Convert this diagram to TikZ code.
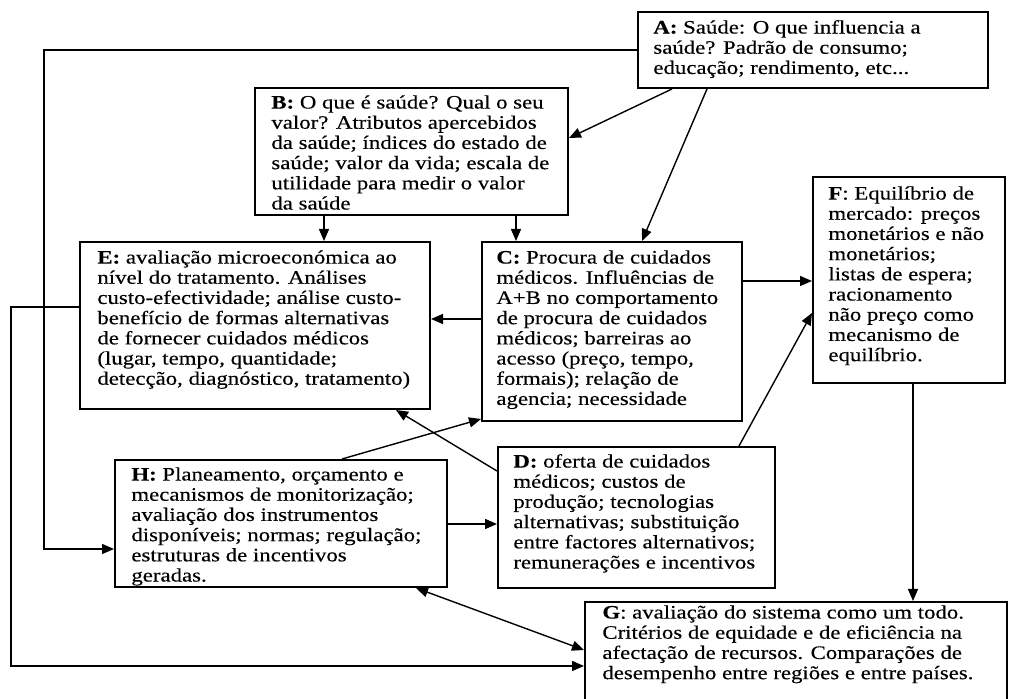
\documentclass[tikz,border=0pt]{standalone}
\usepackage{fontspec}
\setmainfont{Liberation Serif}[FakeStretch=1.2,FakeBold=0.35]
\usetikzlibrary{arrows.meta,calc,fit}
\newcommand\boxfont{\fontsize{9.5pt}{10.1pt}\selectfont}
\begin{document}
\begin{tikzpicture}[x=0.5pt,y=-0.5pt,
  box/.style={draw=black, line width=1pt, inner sep=0pt},
  txt/.style={anchor=north west, inner sep=0pt, align=left, font=\boxfont},
  arr/.style={line width=0.7pt, -{Triangle[length=6pt,width=5pt]}},
  darr/.style={line width=0.7pt, {Triangle[length=6pt,width=5pt]}-{Triangle[length=6pt,width=5pt]}}]
\useasboundingbox (0,0) rectangle (1009,699);
% box corners
\coordinate (Anw) at (638,12);  \coordinate (Ase) at (988,88);
\coordinate (Bnw) at (255,88);  \coordinate (Bse) at (568,215);
\coordinate (Cnw) at (482,242); \coordinate (Cse) at (742,421);
\coordinate (Enw) at (80,242);  \coordinate (Ese) at (430,409);
\coordinate (Fnw) at (813,177); \coordinate (Fse) at (1005,383);
\coordinate (Dnw) at (498,447); \coordinate (Dse) at (775,588);
\coordinate (Hnw) at (115,460); \coordinate (Hse) at (447,587);
\coordinate (Gnw) at (585,602); \coordinate (Gse) at (1007,701);
\node[box, fit=(Anw)(Ase)] (A) {};
\node[box, fit=(Bnw)(Bse)] (B) {};
\node[box, fit=(Cnw)(Cse)] (C) {};
\node[box, fit=(Enw)(Ese)] (E) {};
\node[box, fit=(Fnw)(Fse)] (F) {};
\node[box, fit=(Dnw)(Dse)] (D) {};
\node[box, fit=(Hnw)(Hse)] (H) {};
\node[box, fit=(Gnw)(Gse)] (G) {};
% texts
\node[txt] (At) at (653,19) {\strut\textbf{A:} Saúde: O que influencia a\\saúde? Padrão de consumo;\\educação; rendimento, etc...};
\node[txt] (Bt) at (271,94) {\strut\textbf{B:} O que é saúde? Qual o seu\\valor? Atributos apercebidos\\da saúde; índices do estado de\\saúde; valor da vida; escala de\\utilidade para medir o valor\\da saúde};
\node[txt] (Ct) at (496,249) {\strut\textbf{C:} Procura de cuidados\\médicos. Influências de\\A+B no comportamento\\de procura de cuidados\\médicos; barreiras ao\\acesso (preço, tempo,\\formais); relação de\\agencia; necessidade};
\node[txt] (Et) at (97,249) {\strut\textbf{E:} avaliação microeconómica ao\\nível do tratamento. Análises\\custo-efectividade; análise custo-\\benefício de formas alternativas\\de fornecer cuidados médicos\\(lugar, tempo, quantidade;\\detecção, diagnóstico, tratamento)};
\node[txt] (Ft) at (828,185) {\strut\textbf{F}: Equilíbrio de\\mercado: preços\\monetários e não\\monetários;\\listas de espera;\\racionamento\\não preço como\\mecanismo de\\equilíbrio.};
\node[txt] (Dt) at (513,453) {\strut\textbf{D:} oferta de cuidados\\médicos; custos de\\produção; tecnologias\\alternativas; substituição\\entre factores alternativos;\\remunerações e incentivos};
\node[txt] (Ht) at (131,466) {\strut\textbf{H:} Planeamento, orçamento e\\mecanismos de monitorização;\\avaliação dos instrumentos\\disponíveis; normas; regulação;\\estruturas de incentivos\\geradas.};
\node[txt] (Gt) at (602,604) {\strut\textbf{G}: avaliação do sistema como um todo.\\Critérios de equidade e de eficiência na\\afectação de recursos. Comparações de\\desempenho entre regiões e entre países.};
% connectors
\draw[arr] ($(A.south west)+(35,0)$) -- ($(B.east)+(0,-13.5)$);
\draw[arr] ($(A.south west)+(70,0)$) -- ($(C.north west)+(161,0)$);
\draw[arr] (A.west) -- ++(-593,0) |- ($(H.west)+(0,25.5)$);
\draw[arr] ($(B.south west)+(70,0)$) coordinate (b1) -- (b1 |- E.north);
\draw[arr] ($(B.south west)+(262,0)$) coordinate (b2) -- (b2 |- C.north);
\draw[arr] ($(C.west)+(0,-12.5)$) coordinate (c1) -- (c1 -| E.east);
\draw[arr] ($(C.east)+(0,-50.5)$) coordinate (c2) -- (c2 -| F.west);
\draw[arr] ($(D.north west)+(242,0)$) -- ($(F.west)+(0,33)$);
\draw[arr] ($(D.north west)+(0,25)$) -- ($(E.south west)+(317,0)$);
\draw[arr] ($(H.north west)+(228,0)$) -- ($(C.south west)+(0,-3)$);
\draw[arr] ($(H.east)+(0,0.5)$) coordinate (h1) -- (h1 -| D.west);
\draw[arr] ($(F.south)+(4,0)$) coordinate (f1) -- (f1 |- G.north);
\draw[arr] ($(E.west)+(0,-18.5)$) -- ++(-68,0) |- ($(G.west)+(0,14.5)$);
\draw[darr] ($(G.west)+(0,-1.5)$) -- ($(H.south west)+(302,0)$);
\end{tikzpicture}
\end{document}
